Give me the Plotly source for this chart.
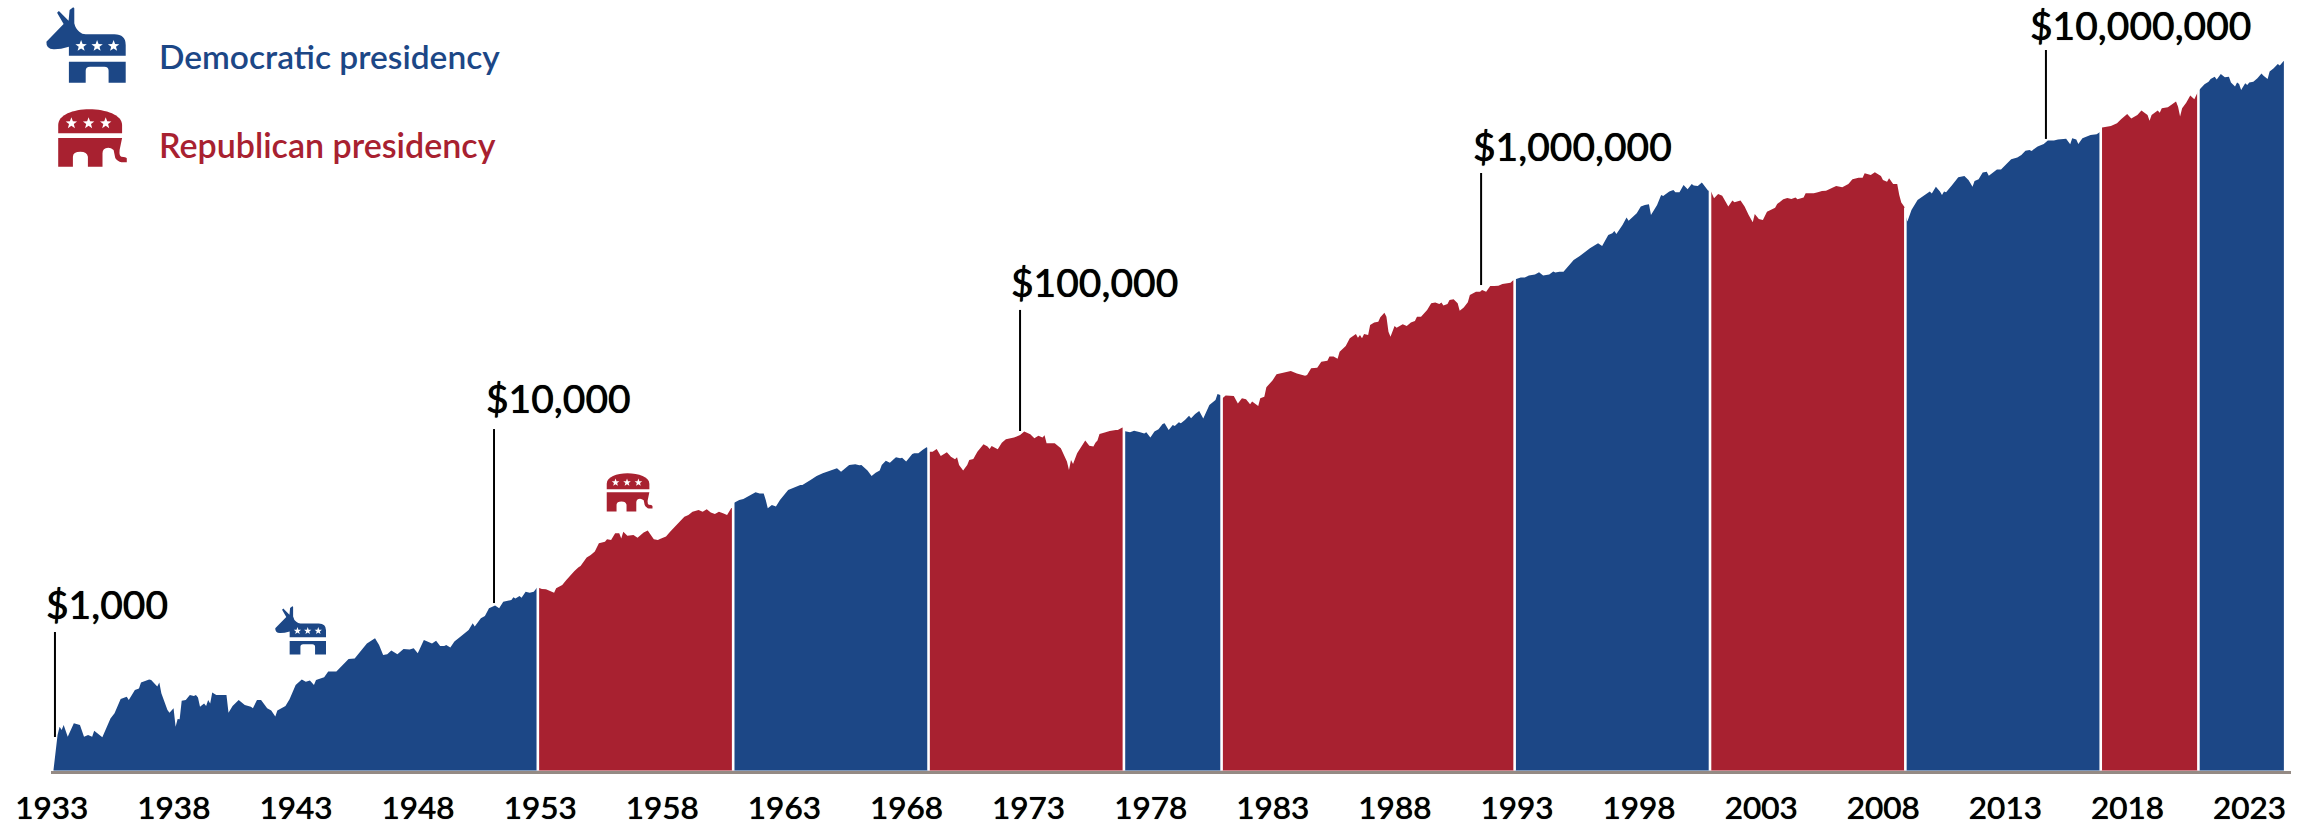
import plotly.graph_objects as go
import math

# Growth of $1,000 in the S&P 500 by presidency.
# Each pair: (months since March 1933, log10 of portfolio value on the chart's unlabelled log scale)
dem_1933 = [(0,2.78),(2,3.013),(3,3.069),(4,3.047),(5,3.08),(7,3.002),(10,3.091),(13,3.08),(15,3.002),(17,3.013),(19,3.002),(20,3.042),(24,2.998),(28,3.124),(30,3.158),(33,3.253),(36,3.269),(37,3.247),(40,3.313),(42,3.324),(43,3.364),(47,3.384),(48,3.38),(51,3.336),(52,3.364),(53,3.291),(56,3.18),(57,3.162),(59,3.191),(60,3.069),(61,3.12),(62,3.118),(63,3.242),(65,3.247),(67,3.28),(69,3.273),(70,3.28),(71,3.264),(72,3.202),(74,3.224),(75,3.207),(76,3.247),(77,3.224),(78,3.296),(80,3.28),(83,3.28),(85,3.28),(86,3.162),(88,3.207),(91,3.247),(94,3.213),(97,3.202),(98,3.191),(100,3.247),(102,3.247),(105,3.191),(107,3.176),(109,3.136),(110,3.176),(114,3.207),(116,3.251),(119,3.347),(122,3.384),(124,3.369),(126,3.376),(128,3.347),(129,3.38),(133,3.398),(135,3.436),(139,3.436),(143,3.491),(145,3.52),(148,3.524),(153,3.613),(154,3.624),(158,3.658),(160,3.613),(162,3.547),(164,3.551),(166,3.576),(169,3.551),(172,3.587),(175,3.584),(177,3.591),(179,3.558),(182,3.647),(186,3.624),(188,3.642),(190,3.607),(192,3.607),(193,3.614),(195,3.596),(197,3.636),(201,3.68),(204,3.713),(206,3.758),(207,3.736),(210,3.791),(212,3.807),(214,3.858),(216,3.869),(217,3.876),(219,3.858),(221,3.902),(225,3.913),(226,3.931),(227,3.924),(229,3.94),(230,3.929),(232,3.969),(234,3.962),(236,3.969),(238,4.004)]
rep_1953 = [(238,3.996),(240,3.987),(242,3.985),(244,3.973),(246,3.962),(247,3.991),(250,4.014),(252,4.047),(254,4.08),(256,4.107),(258,4.131),(259,4.14),(262,4.196),(264,4.213),(266,4.236),(268,4.291),(271,4.302),(272,4.318),(274,4.313),(276,4.358),(278,4.358),(279,4.324),(280,4.369),(282,4.342),(285,4.347),(287,4.329),(290,4.364),(292,4.376),(295,4.318),(297,4.313),(298,4.32),(301,4.336),(303,4.369),(306,4.413),(310,4.469),(312,4.48),(314,4.502),(317,4.513),(319,4.502),(321,4.518),(323,4.496),(325,4.487),(327,4.502),(329,4.491),(331,4.48),(333,4.525),(334,4.53)]
dem_1961 = [(334,4.558),(337,4.58),(339,4.587),(341,4.602),(345,4.631),(347,4.624),(349,4.624),(350,4.58),(351,4.525),(353,4.547),(355,4.536),(357,4.58),(359,4.613),(361,4.647),(367,4.68),(368,4.68),(372,4.713),(375,4.74),(378,4.758),(382,4.776),(384,4.785),(385,4.791),(387,4.769),(391,4.814),(394,4.818),(396,4.811),(397,4.814),(400,4.776),(402,4.74),(404,4.762),(406,4.776),(407,4.814),(409,4.842),(411,4.829),(413,4.854),(414,4.865),(416,4.858),(417,4.862),(419,4.836),(422,4.887),(423,4.891),(425,4.891),(427,4.913),(429,4.931),(430,4.925)]
rep_1969 = [(430,4.902),(432,4.902),(434,4.92),(436,4.874),(438,4.891),(439,4.898),(441,4.869),(443,4.851),(444,4.865),(445,4.814),(447,4.776),(449,4.814),(450,4.847),(452,4.854),(454,4.902),(457,4.951),(459,4.936),(460,4.92),(461,4.94),(462,4.931),(464,4.918),(466,4.962),(468,4.985),(472,4.996),(475,5.013),(477,5.036),(480,5.018),(482,4.991),(484,5.009),(486,4.996),(487,5.011),(488,4.958),(492,4.958),(495,4.925),(496,4.891),(498,4.836),(499,4.78),(500,4.847),(501,4.82),(503,4.891),(507,4.976),(509,4.942),(511,4.936),(512,4.962),(513,4.976),(514,5.02),(517,5.031),(519,5.04),(522,5.047),(523,5.047),(525,5.062),(526,5.065)]
dem_1977 = [(526,5.04),(529,5.031),(531,5.042),(534,5.031),(536,5.024),(537,5.031),(539,4.996),(541,5.036),(543,5.051),(545,5.087),(546,5.091),(548,5.047),(550,5.08),(551,5.073),(553,5.098),(554,5.091),(556,5.113),(558,5.142),(559,5.125),(561,5.153),(563,5.174),(565,5.124),(566,5.158),(568,5.213),(571,5.247),(572,5.287),(574,5.276)]
rep_1981 = [(574,5.253),(576,5.276),(580,5.273),(582,5.224),(584,5.258),(586,5.251),(588,5.218),(589,5.236),(592,5.207),(593,5.258),(595,5.269),(596,5.331),(599,5.376),(601,5.418),(603,5.424),(605,5.431),(608,5.44),(611,5.424),(612,5.42),(615,5.409),(616,5.413),(618,5.458),(621,5.462),(623,5.502),(626,5.509),(627,5.536),(629,5.536),(631,5.522),(632,5.569),(635,5.607),(637,5.658),(639,5.68),(640,5.687),(641,5.662),(642,5.68),(643,5.658),(644,5.687),(646,5.68),(647,5.747),(649,5.764),(651,5.769),(652,5.798),(654,5.829),(655,5.802),(656,5.702),(657,5.669),(658,5.713),(659,5.74),(660,5.729),(663,5.751),(665,5.74),(667,5.764),(669,5.773),(670,5.802),(672,5.802),(675,5.847),(677,5.891),(679,5.896),(681,5.887),(682,5.896),(683,5.876),(685,5.887),(686,5.913),(688,5.918),(690,5.891),(691,5.842),(693,5.864),(695,5.898),(696,5.947),(699,5.969),(701,5.969),(702,5.98),(704,5.969),(706,6.007),(708,6.007),(710,6.009),(712,6.02),(714,6.024),(716,6.029),(717,6.042),(718,6.048)]
dem_1993 = [(718,6.05),(721,6.064),(723,6.064),(725,6.076),(728,6.084),(730,6.098),(732,6.076),(735,6.084),(737,6.104),(738,6.096),(740,6.102),(742,6.102),(744,6.136),(747,6.18),(750,6.207),(755,6.258),(759,6.291),(761,6.274),(764,6.347),(766,6.358),(767,6.374),(768,6.354),(771,6.413),(773,6.464),(774,6.442),(776,6.464),(778,6.491),(780,6.536),(782,6.547),(784,6.551),(785,6.48),(788,6.547),(790,6.613),(791,6.607),(794,6.636),(796,6.647),(797,6.631),(799,6.631),(801,6.68),(803,6.651),(805,6.687),(806,6.676),(808,6.673),(810,6.696),(812,6.665),(813,6.643),(814,6.64)]
rep_2001 = [(814,6.651),(816,6.591),(818,6.62),(820,6.609),(821,6.585),(823,6.536),(825,6.576),(826,6.565),(829,6.576),(831,6.536),(833,6.48),(835,6.431),(836,6.487),(838,6.454),(840,6.447),(842,6.502),(846,6.529),(847,6.553),(850,6.585),(852,6.594),(854,6.587),(856,6.596),(857,6.585),(860,6.596),(861,6.625),(865,6.625),(867,6.631),(869,6.64),(871,6.642),(874,6.658),(876,6.673),(879,6.665),(882,6.687),(884,6.718),(887,6.729),(889,6.729),(890,6.758),(893,6.747),(895,6.765),(898,6.74),(899,6.713),(901,6.702),(902,6.725),(904,6.687),(906,6.687),(907,6.613),(908,6.563),(910,6.525)]
dem_2009 = [(910,6.48),(911,6.436),(913,6.513),(916,6.58),(919,6.609),(920,6.618),(922,6.636),(923,6.624),(925,6.669),(927,6.636),(928,6.613),(929,6.636),(930,6.631),(933,6.68),(936,6.731),(939,6.74),(941,6.713),(942,6.691),(943,6.669),(944,6.707),(946,6.718),(948,6.764),(950,6.769),(951,6.742),(955,6.784),(957,6.784),(960,6.824),(962,6.851),(965,6.864),(967,6.88),(969,6.909),(971,6.913),(972,6.907),(975,6.936),(978,6.953),(980,6.976),(983,6.976),(985,6.984),(989,6.989),(991,6.951),(992,6.991),(994,6.984),(995,6.953),(997,6.991),(1001,7.013),(1004,7.018),(1006,7.036)]
rep_2017 = [(1006,7.062),(1011,7.073),(1014,7.091),(1016,7.118),(1019,7.153),(1021,7.124),(1024,7.147),(1026,7.176),(1029,7.147),(1030,7.109),(1031,7.147),(1034,7.176),(1035,7.162),(1036,7.191),(1039,7.198),(1043,7.236),(1044,7.202),(1045,7.136),(1046,7.191),(1048,7.229),(1050,7.276),(1052,7.251),(1054,7.309)]
dem_2021 = [(1054,7.309),(1057,7.351),(1059,7.369),(1060,7.387),(1062,7.402),(1063,7.384),(1065,7.42),(1067,7.398),(1069,7.402),(1070,7.364),(1072,7.336),(1073,7.364),(1074,7.353),(1075,7.313),(1077,7.358),(1078,7.347),(1079,7.364),(1081,7.369),(1083,7.391),(1085,7.424),(1086,7.409),(1088,7.387),(1089,7.436),(1091,7.458),(1093,7.487),(1094,7.476),(1096,7.509)]

terms = [("Democratic", dem_1933), ("Republican", rep_1953), ("Democratic", dem_1961), ("Republican", rep_1969),
         ("Democratic", dem_1977), ("Republican", rep_1981), ("Democratic", dem_1993), ("Republican", rep_2001),
         ("Democratic", dem_2009), ("Republican", rep_2017), ("Democratic", dem_2021)]

tick_years = list(range(1933, 2024, 5))

milestone_labels = ["$1,000", "$10,000", "$100,000", "$1,000,000", "$10,000,000"]
milestone_years = [1933.31, 1951.29, 1972.83, 1991.71, 2014.84]
milestone_bottom = [3.0, 3.893, 5.04, 6.013, 6.987]
milestone_top = [3.7, 5.053, 5.847, 6.76, 7.58]

BLUE = "#1c4786"
RED = "#a82130"
AXIS = "#948a84"
W, H = 2318, 826
BASE = 2.7753
START_YEAR = 1933.25

def to_year(m):
    return START_YEAR + m / 12

def px(x):
    return x / W

def py(y):
    return 1 - y / H

fig = go.Figure()
colours = {"Democratic": BLUE, "Republican": RED}
for party, term in terms:
    xs = [to_year(m) for m, _ in term]
    ys = [v for _, v in term]
    fig.add_trace(go.Scatter(x=[xs[0]] + xs + [xs[-1]], y=[BASE] + ys + [BASE], mode="lines", fill="toself",
                             fillcolor=colours[party], line=dict(width=0, color=colours[party]),
                             name=party, hoverinfo="skip"))

# white separators at each change of presidency
for _, term in terms[1:]:
    x = to_year(term[0][0])
    fig.add_trace(go.Scatter(x=[x, x], y=[BASE, term[0][1] + 0.05], mode="lines",
                             line=dict(color="white", width=2.6), hoverinfo="skip"))

# leader lines
for yr, lo, hi in zip(milestone_years, milestone_bottom, milestone_top):
    fig.add_trace(go.Scatter(x=[yr, yr], y=[lo, hi], mode="lines", line=dict(color="#000000", width=2), hoverinfo="skip"))

# --- icons (local pixel design, placed through paper coordinates) ---
DONKEY = [
    [("M",0.4,34.7),("L",17.6,17),("L",11.1,5.7),("L",12.9,4),("L",22.6,13.7),("L",23.6,3),("L",27.2,0.3),("L",28.3,1.3),("L",28.3,16.3),
     ("Q",29.5,22,33.3,24.7),("Q",36,27.3,39.7,27.3),("L",68.3,27.3),("Q",79.7,27.3,79.7,38),("L",79.7,48.7),("L",22.9,48.7),("L",22.9,39.7),
     ("Q",14,42.5,7.6,42.3),("Q",0,42,0.4,34.7)],
    [("M",22.9,54.7),("L",79.7,54.7),("L",79.7,75.7),("L",62.6,75.7),("L",62.6,63.7),("Q",62.6,59.7,58.3,59.7),("L",44,59.7),("Q",39.7,59.7,39.7,63.7),("L",39.7,75.7),("L",22.9,75.7)],
]
DONKEY_STARS = [(35.1, 39), (51.1, 39), (67.6, 39)]
ELEPHANT = [
    [("M",0.2,24.3),("L",0.2,16),("C",0.2,6,15,0.3,31.3,0.3),("C",48,0.3,64.1,6,64.1,16),("L",64.1,24.3)],
    [("M",0.2,29),("L",64.1,29),("L",61.6,41),("Q",61,47,63.4,47.7),("Q",68,48,68.8,49.3),("L",68.8,53.3),("Q",63,53.5,61.6,52.7),("Q",57,50,57,47.7),("L",55.6,41),
     ("Q",53,38.7,50.2,38.7),("Q",44.5,39,44.5,44.3),("L",44.5,57.7),("L",29.9,57.7),("L",29.9,47.7),("Q",29,42.7,22.4,42.7),("Q",15,42.7,14.9,47.7),("L",14.9,57.7),("L",0.2,57.7)],
]
ELEPHANT_STARS = [(13.4, 14.3), (30.6, 14.3), (47.7, 14.3)]

def star_path(cx, cy, r):
    pts = []
    for i in range(10):
        a = -math.pi / 2 + i * math.pi / 5
        rad = r if i % 2 == 0 else r * 0.42
        pts.append(("L" if i else "M", cx + rad * math.cos(a), cy + rad * math.sin(a)))
    return pts

def path_str(cmds, ox, oy, s):
    out = []
    for c in cmds:
        nums = c[1:]
        coords = []
        for i in range(0, len(nums), 2):
            coords.append(f"{px(ox + nums[i] * s):.5f},{py(oy + nums[i + 1] * s):.5f}")
        out.append(c[0] + " ".join(coords))
    return " ".join(out) + " Z"

shapes = []
def add_icon(parts, stars, ox, oy, s, colour, r):
    for p in parts:
        shapes.append(dict(type="path", xref="paper", yref="paper", path=path_str(p, ox, oy, s), fillcolor=colour, line=dict(width=0)))
    for cx, cy in stars:
        shapes.append(dict(type="path", xref="paper", yref="paper", path=path_str(star_path(cx, cy, r), ox, oy, s), fillcolor="white", line=dict(width=0)))

add_icon(DONKEY, DONKEY_STARS, 46, 7, 1, BLUE, 6)
add_icon(ELEPHANT, ELEPHANT_STARS, 58, 109, 1, RED, 6)
add_icon(DONKEY, DONKEY_STARS, 275, 606, 0.64, BLUE, 6)
add_icon(ELEPHANT, ELEPHANT_STARS, 606.6, 473, 0.667, RED, 6)

annotations = [
    dict(text="Democratic presidency", x=px(157), y=py(56), xref="paper", yref="paper", xanchor="left", yanchor="middle", showarrow=False,
         font=dict(family="Lato", size=33.5, color=BLUE, weight=600)),
    dict(text="Republican presidency", x=px(157), y=py(144), xref="paper", yref="paper", xanchor="left", yanchor="middle", showarrow=False,
         font=dict(family="Lato", size=34, color=RED, weight=600)),
]
label_pos = [(107, 604), (558, 398), (1094, 282), (1572, 146), (2140, 25)]
for txt, (lx, ly) in zip(milestone_labels, label_pos):
    annotations.append(dict(text=txt, x=px(lx), y=py(ly), xref="paper", yref="paper", xanchor="center", yanchor="middle", showarrow=False,
                            font=dict(family="Lato", size=39, color="#000000", weight=500, shadow="0 0 0.7px #000000")))

fig.update_layout(
    width=W, height=H, margin=dict(l=0, r=0, t=0, b=0, autoexpand=False), paper_bgcolor="white", plot_bgcolor="white",
    showlegend=False, hovermode=False, shapes=shapes, annotations=annotations,
    xaxis=dict(domain=[51 / W, 2291 / W], range=[1933.148, 2024.875], automargin=False, tickmode="array",
               tickvals=[y + 0.18 for y in tick_years], ticktext=[str(y) for y in tick_years],
               showgrid=False, zeroline=False, showline=True, linecolor=AXIS, linewidth=3, ticks="outside", ticklen=7,
               tickcolor="rgba(0,0,0,0)", tickangle=0,
               tickfont=dict(family="Lato", size=31.5, color="#000000", weight=500, shadow="0 0 0.7px #000000")),
    yaxis=dict(domain=[(H - 770.7) / H, 1], range=[BASE, 7.9133], visible=False),
)
fig.write_html("out.html", post_script="document.body.style.margin='0';", config={"displayModeBar": False})
